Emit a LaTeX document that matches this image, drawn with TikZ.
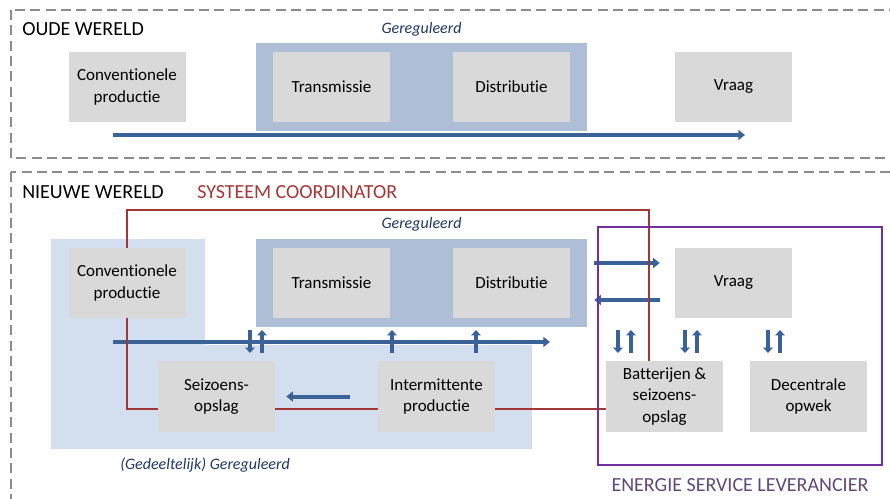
\documentclass[tikz,border=0pt]{standalone}
\usepackage{fontspec}
\setmainfont{Carlito}[Ligatures={NoCommon}]
\usepackage{xcolor}
\usepackage{tikz}
\usetikzlibrary{arrows.meta,positioning,calc,fit}
\definecolor{boxgray}{RGB}{217,217,217}
\definecolor{framegray}{RGB}{140,140,140}
\definecolor{regblue}{RGB}{173,190,214}
\definecolor{partblue}{RGB}{211,222,238}
\definecolor{flowblue}{RGB}{59,98,150}
\definecolor{sysred}{RGB}{163,55,55}
\definecolor{eslpurple}{RGB}{112,48,160}
\definecolor{esltext}{RGB}{96,73,122}
\definecolor{regtext}{RGB}{31,56,100}
\pgfdeclarelayer{bg}
\pgfdeclarelayer{lines}
\pgfsetlayers{bg,lines,main}

\begin{document}
\begin{tikzpicture}[x=0.75pt, y=-0.75pt]
    \tikzstyle{box}=[fill=boxgray, minimum width=87.75pt, minimum height=52.5pt, inner sep=0pt, align=center, font=\fontsize{12.75}{16}\selectfont]
    \tikzstyle{world}=[draw=framegray, line width=2.2pt, dash pattern=on 7.5pt off 4pt]
    \tikzstyle{heading}=[inner sep=0pt, font=\fontsize{15}{18}\selectfont]
    \tikzstyle{reglabel}=[inner sep=0pt, text=regtext, font=\fontsize{12}{14}\selectfont\itshape]
    \tikzstyle{regblock}=[fill=regblue, inner sep=0pt]
    \tikzstyle{flow}=[draw=flowblue, line width=3pt, -{Triangle[length=5pt,width=7.5pt]}]
    \tikzstyle{updown}=[draw=flowblue, line width=3pt, -{Triangle[length=4pt,width=7pt]}]
    \tikzstyle{sysline}=[draw=sysred, line width=2pt]
    \tikzstyle{eslframe}=[draw=eslpurple, line width=2pt, inner sep=0pt]

    \useasboundingbox (0,0) rectangle (890,499);
    \clip (0,0) rectangle (890,499);

    \begin{pgfonlayer}{bg}
      \draw[world] (11,10) rectangle (905,158);
      \draw[world] (11,172) rectangle (905,515);
      \fill[partblue] (51,239) -- (205,239) -- (205,345) -- (532,345) -- (532,449) -- (51,449) -- cycle;
      \node[regblock, fit={(256,43) (587,131)}] (regold) {};
      \node[regblock, fit={(256,239) (587,327)}] (regnew) {};
    \end{pgfonlayer}

    % oude wereld
    \node[heading, anchor=west] (oude) at (22,29) {OUDE WERELD};
    \node[reglabel] at (regold.north |- oude) {Gereguleerd};
    \node[box] (oconv) at (127,87) {Conventionele\\productie};
    \node[box] (otrans) at (331.5,87) {Transmissie};
    \node[box] (odist) at (511.5,87) {Distributie};
    \node[box] (ovraag) at (733.5,87) {Vraag};
    \coordinate (oldfrom) at (113,135);
    \coordinate (oldto) at (745,135);
    \draw[flow] (oldfrom) -- (oldto);

    % nieuwe wereld
    \node[heading, anchor=west] (nieuwe) at (22,192) {NIEUWE WERELD};
    \node[heading, anchor=west, text=sysred] (syscoord) at (197,192) {SYSTEEM COORDINATOR};
    \node[reglabel] at ($(regnew.north)+(0,-14)$) {Gereguleerd};
    \node[reglabel] (partlabel) at (205,465) {(Gedeeltelijk) Gereguleerd};
    \node[box] (conv) at (127,283) {Conventionele\\productie};
    \node[box] (trans) at (331.5,283) {Transmissie};
    \node[box] (dist) at (511.5,283) {Distributie};
    \node[box] (vraag) at (733.5,283) {Vraag};
    \node[box] (seiz) at (216.5,396.5) {Seizoens-\\opslag};
    \node[box] (interm) at (436.5,396.5) {Intermittente\\productie};
    \node[box] (batt) at (664.5,396.5) {Batterijen \&\\seizoens-\\opslag};
    \node[box] (dec) at (808.5,396.5) {Decentrale\\opwek};

    \begin{pgfonlayer}{lines}
      \coordinate (newfrom) at (113,342);
      \coordinate (newto) at (550,342);
      \draw[flow] (newfrom) -- (newto);
      \draw[flow] ($(dist.east)+(24,-20)$) -- ($(vraag.west)+(-15,-20)$);
      \draw[flow] ($(vraag.west)+(-15,17)$) -- ($(dist.east)+(24,17)$);
      \draw[flow] ($(interm.west)+(-28,0)$) -- ($(seiz.east)+(11,0)$);
      \foreach \x in {250,618,685,768}
        \draw[updown] (\x,330) -- (\x,353);
      \foreach \x in {262,392,476,631,697,780}
        \draw[updown] (\x,353) -- (\x,330);
      \coordinate (sysne) at (649,210);
      \coordinate (sysnw) at (127,210);
      \coordinate (syssw) at (127,409);
      \draw[sysline] (batt.north -| sysne) -- (sysne) -- (sysnw) -- (syssw) -- (batt.west |- syssw);
    \end{pgfonlayer}

    \node[eslframe, fit={(598,227) (882,465)}] (esl) {};
    \node[heading, text=esltext] at ($(esl.south)+(0,19)$) {ENERGIE SERVICE LEVERANCIER};
  \end{tikzpicture}
\end{document}
